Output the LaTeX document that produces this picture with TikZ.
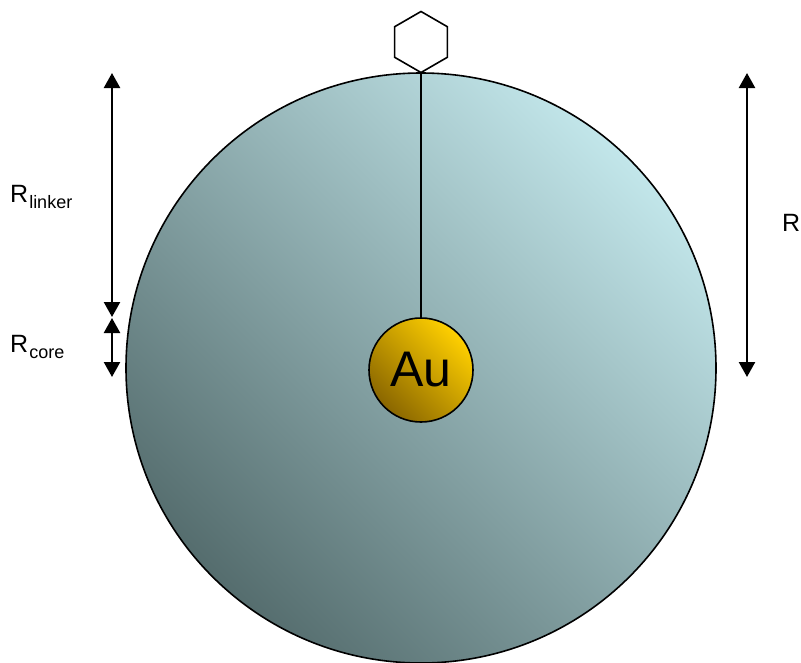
\documentclass[tikz,border=0pt]{standalone}
\usepackage{fontspec}
\setmainfont{Liberation Sans}
\usetikzlibrary{arrows.meta,shapes.geometric}
\definecolor{shelldark}{HTML}{556D6E}
\definecolor{shelllight}{HTML}{C2E6EA}
\definecolor{goldlight}{HTML}{FFD000}
\definecolor{golddark}{HTML}{8A6600}
\tikzset{
  dim/.style={line width=2.4pt,{Triangle[length=15pt,width=16pt]}-{Triangle[length=15pt,width=16pt]}},
  lbl/.style={inner sep=0pt,anchor=base west,font=\fontsize{25}{30}\selectfont},
}
\newcommand{\subtxt}[1]{\kern1pt\raisebox{-6pt}{\fontsize{18}{20}\selectfont #1}}
\begin{document}
\begin{tikzpicture}[x=1pt,y=-1pt]
\useasboundingbox (0,0) rectangle (801,662);
\node[circle,draw=black,line width=1.6pt,minimum size=590pt,inner sep=0pt,
  left color=shelllight,right color=shelldark,shading angle=-45] (shell) at (421,368) {};
\node[regular polygon,regular polygon sides=6,shape border rotate=30,draw=black,line width=1.6pt,
  minimum size=61pt,inner sep=0pt,fill=white] (hex) at (421,42) {};
\node[circle,draw=black,line width=1.6pt,minimum size=104pt,inner sep=0pt,
  left color=goldlight,right color=golddark,shading angle=-45,
  font=\fontsize{50}{55}\selectfont] (au) at (421,370) {Au};
\draw[line width=1.3pt] (hex.south) -- (au.north);
\coordinate (l1) at (112,73);
\coordinate (l2) at (112,317);
\coordinate (l3) at (112,318);
\coordinate (l4) at (112,377);
\coordinate (r1) at (747,73);
\coordinate (r2) at (747,377);
\draw[dim] (l1) -- (l2);
\draw[dim] (l3) -- (l4);
\draw[dim] (r1) -- (r2);
\node[lbl] (rlinker) at (10,202) {R\subtxt{linker}};
\node[lbl] (rcore) at (10,352) {R\subtxt{core}};
\node[lbl] (rtot) at (782,231) {R};
\end{tikzpicture}
\end{document}
